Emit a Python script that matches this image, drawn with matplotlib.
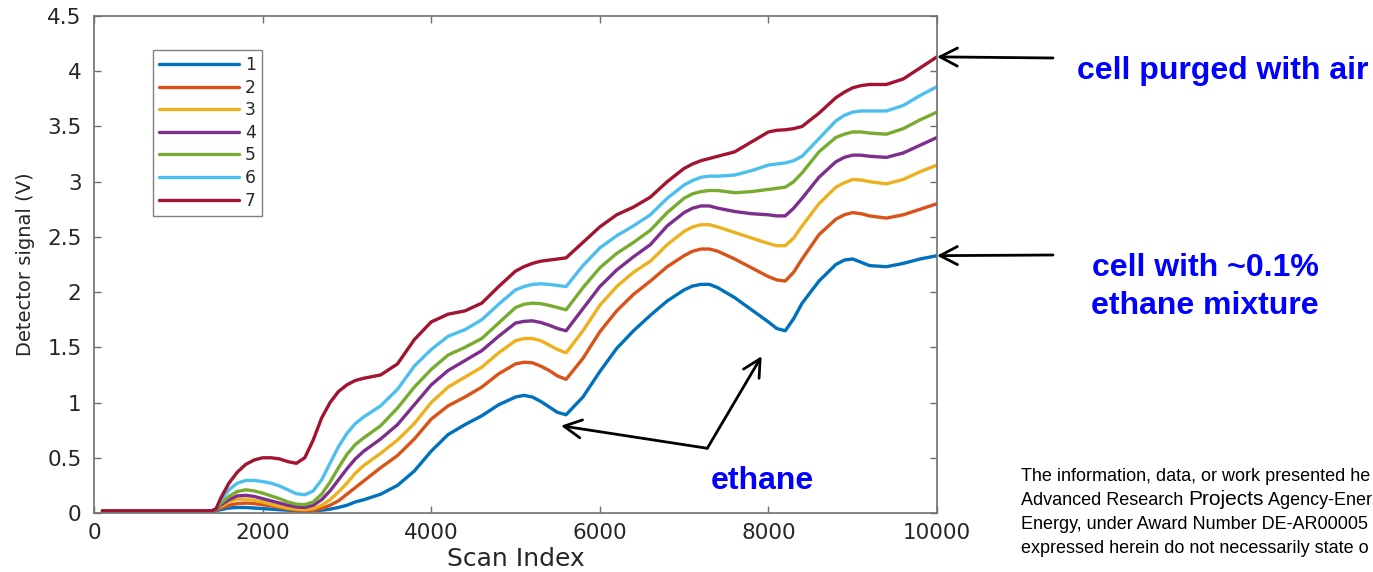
import matplotlib
matplotlib.use("Agg")
import matplotlib.pyplot as plt

# ---------------- data ----------------
scan_index = [100, 1400, 1450,
              1500, 1600, 1700, 1800, 1900, 2000, 2100, 2200, 2300, 2400, 2500, 2600,
              2700, 2800, 2900, 3000, 3100, 3200,
              3400, 3600, 3800, 4000, 4200, 4400, 4600, 4800,
              5000, 5100, 5200, 5300, 5400, 5500, 5600,
              5800, 6000, 6200, 6400, 6600, 6800, 7000,
              7100, 7200, 7300, 7400, 7600, 7800, 8000,
              8100, 8200, 8300, 8400, 8600, 8800,
              8900, 9000, 9100, 9200, 9400, 9600, 9800, 10000]

s1 = [0.02, 0.02, 0.02,
      0.03, 0.045, 0.05, 0.05, 0.045, 0.04, 0.035, 0.03, 0.025, 0.02, 0.02, 0.02,
      0.025, 0.035, 0.05, 0.07, 0.10, 0.12,
      0.17, 0.25, 0.38, 0.56, 0.71, 0.80, 0.88, 0.98,
      1.05, 1.065, 1.05, 1.01, 0.96, 0.91, 0.89,
      1.05, 1.28, 1.49, 1.65, 1.79, 1.92, 2.02,
      2.055, 2.07, 2.07, 2.04, 1.95, 1.84, 1.73,
      1.67, 1.65, 1.76, 1.90, 2.10, 2.25,
      2.29, 2.30, 2.27, 2.24, 2.23, 2.26, 2.30, 2.33]
s2 = [0.02, 0.02, 0.025,
      0.045, 0.07, 0.085, 0.09, 0.085, 0.075, 0.065, 0.05, 0.035, 0.025, 0.02, 0.025,
      0.04, 0.07, 0.11, 0.17, 0.23, 0.29,
      0.41, 0.52, 0.67, 0.85, 0.97, 1.05, 1.14, 1.26,
      1.35, 1.365, 1.36, 1.33, 1.29, 1.24, 1.21,
      1.40, 1.64, 1.83, 1.98, 2.10, 2.23, 2.33,
      2.37, 2.39, 2.39, 2.37, 2.30, 2.22, 2.14,
      2.11, 2.10, 2.18, 2.30, 2.52, 2.66,
      2.70, 2.72, 2.71, 2.69, 2.67, 2.70, 2.75, 2.80]
s3 = [0.02, 0.02, 0.03,
      0.055, 0.10, 0.125, 0.125, 0.115, 0.10, 0.08, 0.06, 0.045, 0.035, 0.03, 0.04,
      0.07, 0.12, 0.19, 0.27, 0.36, 0.43,
      0.54, 0.66, 0.81, 1.00, 1.14, 1.23, 1.32, 1.45,
      1.56, 1.58, 1.58, 1.56, 1.52, 1.48, 1.45,
      1.65, 1.88, 2.05, 2.18, 2.28, 2.43, 2.55,
      2.59, 2.61, 2.61, 2.59, 2.54, 2.49, 2.44,
      2.42, 2.42, 2.49, 2.60, 2.80, 2.95,
      2.99, 3.02, 3.015, 3.00, 2.98, 3.02, 3.09, 3.15]
s4 = [0.02, 0.02, 0.03,
      0.07, 0.12, 0.155, 0.16, 0.15, 0.13, 0.11, 0.09, 0.07, 0.055, 0.05, 0.07,
      0.12, 0.20, 0.30, 0.40, 0.49, 0.56,
      0.67, 0.80, 0.98, 1.16, 1.29, 1.38, 1.47, 1.60,
      1.72, 1.735, 1.74, 1.725, 1.70, 1.67, 1.65,
      1.85, 2.05, 2.20, 2.32, 2.43, 2.60, 2.72,
      2.76, 2.78, 2.78, 2.76, 2.73, 2.71, 2.70,
      2.69, 2.69, 2.76, 2.85, 3.04, 3.18,
      3.22, 3.24, 3.24, 3.23, 3.22, 3.26, 3.33, 3.40]
s5 = [0.02, 0.02, 0.035,
      0.085, 0.15, 0.195, 0.21, 0.20, 0.18, 0.155, 0.13, 0.10, 0.08, 0.075, 0.10,
      0.17, 0.28, 0.41, 0.53, 0.62, 0.68,
      0.79, 0.95, 1.14, 1.30, 1.43, 1.50, 1.58, 1.72,
      1.86, 1.89, 1.90, 1.895, 1.88, 1.86, 1.84,
      2.04, 2.22, 2.35, 2.45, 2.56, 2.72, 2.85,
      2.89, 2.91, 2.92, 2.92, 2.90, 2.91, 2.93,
      2.94, 2.95, 3.00, 3.08, 3.27, 3.40,
      3.43, 3.45, 3.45, 3.44, 3.43, 3.48, 3.56, 3.63]
s6 = [0.02, 0.02, 0.04,
      0.11, 0.21, 0.27, 0.295, 0.295, 0.285, 0.27, 0.245, 0.21, 0.175, 0.165, 0.20,
      0.30, 0.45, 0.60, 0.72, 0.81, 0.87,
      0.97, 1.12, 1.33, 1.48, 1.60, 1.66, 1.75, 1.89,
      2.02, 2.05, 2.07, 2.075, 2.07, 2.06, 2.05,
      2.24, 2.40, 2.51, 2.60, 2.70, 2.85, 2.97,
      3.01, 3.04, 3.05, 3.05, 3.06, 3.10, 3.15,
      3.16, 3.17, 3.19, 3.23, 3.39, 3.55,
      3.60, 3.63, 3.64, 3.64, 3.64, 3.69, 3.78, 3.86]
s7 = [0.02, 0.02, 0.04,
      0.13, 0.27, 0.37, 0.44, 0.48, 0.50, 0.50, 0.49, 0.465, 0.45, 0.50, 0.66,
      0.86, 1.00, 1.10, 1.16, 1.20, 1.22,
      1.25, 1.35, 1.57, 1.73, 1.80, 1.83, 1.90, 2.05,
      2.19, 2.23, 2.26, 2.28, 2.29, 2.30, 2.31,
      2.45, 2.59, 2.70, 2.77, 2.86, 3.00, 3.12,
      3.16, 3.19, 3.21, 3.23, 3.27, 3.36, 3.45,
      3.465, 3.47, 3.48, 3.50, 3.62, 3.76,
      3.81, 3.85, 3.87, 3.88, 3.88, 3.93, 4.03, 4.13]

series = [s1, s2, s3, s4, s5, s6, s7]
series_labels = ["1", "2", "3", "4", "5", "6", "7"]
colors = ["#0072BD", "#D95319", "#EDB120", "#7E2F8E", "#77AC30", "#4DBEEE", "#A2142F"]

xticks = [0, 2000, 4000, 6000, 8000, 10000]
xticklabels = ["0", "2000", "4000", "6000", "8000", "10000"]
yticks = [0, 0.5, 1, 1.5, 2, 2.5, 3, 3.5, 4, 4.5]
yticklabels = ["0", "0.5", "1", "1.5", "2", "2.5", "3", "3.5", "4", "4.5"]

# ethane feature positions (scan index, volts)
ethane_tip1 = (5540, 0.79)
ethane_tip2 = (7920, 1.42)
ethane_vertex = (7275, 0.586)
ethane_label_pos = (7930, 0.215)

disclaimer = [
    ["The information, data, or work presented he"],
    ["Advanced Research ", "Projects", " Agency-Ener"],
    ["Energy, under Award Number DE-AR00005"],
    ["expressed herein do not necessarily state o"],
]

# ---------------- figure ----------------
W, H = 1373, 572
fig = plt.figure(figsize=(W / 100, H / 100), dpi=100)
L, R, T, B = 94, 937, 16, 513
ax = fig.add_axes([L / W, 1 - B / H, (R - L) / W, (B - T) / H])

for s, lab, c in zip(series, series_labels, colors):
    ax.plot(scan_index, s, color=c, lw=2.4, label=lab,
            solid_capstyle="round", solid_joinstyle="round")

ax.set_xlim(0, 10000)
ax.set_ylim(0, 4.5)
ax.set_xticks(xticks)
ax.set_xticklabels(xticklabels)
ax.set_yticks(yticks)
ax.set_yticklabels(yticklabels)

spine_col = "#707070"
for sp in ax.spines.values():
    sp.set_color(spine_col)
    sp.set_linewidth(1.2)
ax.tick_params(direction="in", length=5, width=1.0, color=spine_col,
               top=True, right=True, labelsize=15.5, labelcolor="#262626",
               labelfontfamily="DejaVu Sans")
ax.tick_params(axis="x", pad=7)
ax.tick_params(axis="y", pad=9)

ax.set_xlabel("Scan Index", fontsize=18, color="#262626", family="DejaVu Sans", labelpad=3)
ax.set_ylabel("Detector signal (V)", fontsize=14, color="#262626", family="DejaVu Sans", labelpad=9)

leg = ax.legend(loc="upper left", bbox_to_anchor=((152.7 - L) / (R - L), (B - 50) / (B - T)),
                borderaxespad=0, fancybox=False, frameon=True,
                handlelength=4.7, handletextpad=0.35, labelspacing=0.27, borderpad=0.35,
                prop={"family": "DejaVu Sans", "size": 12.3})
leg.get_frame().set_edgecolor("#606060")
leg.get_frame().set_linewidth(1.0)
for t in leg.get_texts():
    t.set_color("#262626")

# ---------------- annotations ----------------
arrow_kw = dict(arrowstyle="->,head_length=1.25,head_width=0.65", color="black",
                lw=2.0, shrinkA=0, shrinkB=0, mutation_scale=10)

ax.annotate("", xy=(scan_index[-1], s7[-1]), xycoords="data",
            xytext=(1053, H - 58), textcoords="figure pixels",
            arrowprops=arrow_kw, annotation_clip=False)
ax.annotate("", xy=(scan_index[-1], s1[-1]), xycoords="data",
            xytext=(1053, H - 255), textcoords="figure pixels",
            arrowprops=arrow_kw, annotation_clip=False)

ax.annotate("", xy=ethane_tip1, xytext=ethane_vertex, arrowprops=arrow_kw)
ax.annotate("", xy=ethane_tip2, xytext=ethane_vertex, arrowprops=arrow_kw)

blue = "#0000FF"
bold_kw = dict(fontsize=23, fontweight="bold", color=blue, family="Liberation Sans")
ax.text(ethane_label_pos[0], ethane_label_pos[1], "ethane", ha="center", va="baseline", **bold_kw)

fig.text(1077 / W, 1 - 78.7 / H, "cell purged with air", ha="left", va="baseline", **bold_kw)
fig.text(1205 / W, 1 - 275.6 / H, "cell with ~0.1%", ha="center", va="baseline", **bold_kw)
fig.text(1205 / W, 1 - 313.5 / H, "ethane mixture", ha="center", va="baseline", **bold_kw)

# disclaimer block
renderer = fig.canvas.get_renderer()
baselines = [481.0, 505.0, 529.0, 553.0]
for parts, yb in zip(disclaimer, baselines):
    xpix = 1021.0
    for p in parts:
        size = 15.0 if p == "Projects" else 13.0
        t = fig.text(xpix / W, 1 - yb / H, p, ha="left", va="baseline",
                     fontsize=size, family="Liberation Sans", color="black")
        bb = t.get_window_extent(renderer)
        xpix = bb.x1

fig.savefig("out.png", dpi=100)
